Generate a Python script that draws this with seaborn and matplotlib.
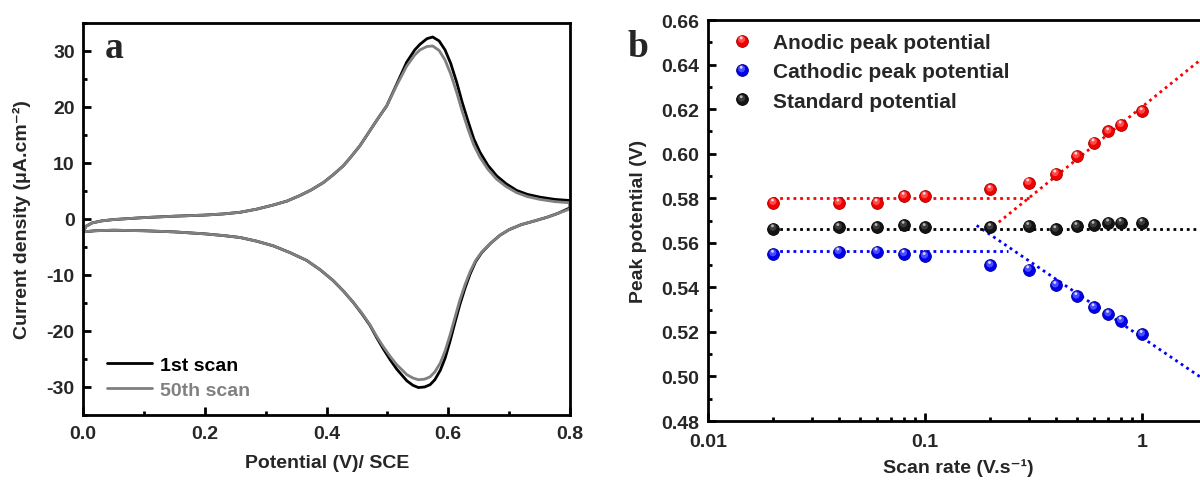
import numpy as np
import pandas as pd
import matplotlib
matplotlib.use("Agg")
import matplotlib.pyplot as plt
from matplotlib.path import Path
from matplotlib.markers import MarkerStyle
from matplotlib.legend_handler import HandlerTuple
from matplotlib.ticker import MultipleLocator, FixedLocator, NullFormatter, LogLocator
import seaborn as sns

# ---------------- (a) cyclic voltammograms, 1st and 50th scan ----------------
potential_fwd = [0.000, 0.005, 0.015, 0.030, 0.050, 0.100, 0.150, 0.200, 0.230,
                 0.2579, 0.285, 0.3127, 0.335, 0.3565, 0.375, 0.3948, 0.411, 0.4277,
                 0.441, 0.455, 0.466, 0.4769, 0.488, 0.4989, 0.515, 0.5317, 0.545,
                 0.5536, 0.565, 0.5744, 0.585, 0.5947, 0.604, 0.6139, 0.623, 0.633,
                 0.642, 0.6522, 0.665, 0.6796, 0.695, 0.7124, 0.730, 0.7507, 0.775, 0.800]
current_fwd_1st = [-2.3, -1.3, -0.7, -0.35, -0.1, 0.25, 0.5, 0.7, 0.9,
                   1.2, 1.75, 2.5, 3.2, 4.2, 5.2, 6.5, 7.9, 9.5,
                   11.2, 13.1, 14.9, 16.7, 18.5, 20.2, 24.0, 28.0, 30.2,
                   31.2, 32.2, 32.5, 31.8, 30.2, 27.8, 24.4, 20.8, 17.3,
                   14.3, 11.9, 9.6, 7.7, 6.3, 5.1, 4.4, 3.9, 3.5, 3.3]
current_fwd_50th = [-2.3, -1.3, -0.7, -0.35, -0.1, 0.25, 0.5, 0.7, 0.9,
                    1.2, 1.75, 2.5, 3.2, 4.2, 5.2, 6.5, 7.9, 9.5,
                    11.2, 13.1, 14.9, 16.7, 18.5, 20.2, 23.8, 27.3, 29.3,
                    30.2, 30.8, 30.9, 30.1, 28.4, 25.9, 22.6, 19.2, 15.9,
                    13.2, 11.0, 8.9, 7.1, 5.8, 4.7, 4.0, 3.5, 3.1, 2.9]

potential_rev = [0.800, 0.780, 0.762, 0.740, 0.720, 0.700, 0.685, 0.670, 0.655,
                 0.645, 0.636, 0.628, 0.619, 0.611, 0.603, 0.595, 0.587, 0.578,
                 0.570, 0.561, 0.551, 0.542, 0.532, 0.5153, 0.505, 0.4933, 0.482,
                 0.4715, 0.458, 0.444, 0.428, 0.411, 0.390, 0.3675, 0.340, 0.3127,
                 0.285, 0.2579, 0.230, 0.200, 0.150, 0.100, 0.050, 0.020, 0.000]
current_rev_1st = [2.0, 1.0, 0.3, -0.4, -1.0, -1.9, -2.9, -4.3, -6.0,
                   -7.6, -9.8, -12.2, -15.3, -18.5, -21.8, -24.8, -27.0, -28.7,
                   -29.6, -30.0, -30.1, -29.7, -28.9, -26.8, -25.2, -23.2, -21.1,
                   -19.0, -16.9, -14.9, -12.9, -11.0, -9.1, -7.4, -6.0, -4.8,
                   -3.95, -3.3, -2.95, -2.65, -2.3, -2.1, -2.0, -2.1, -2.3]
current_rev_50th = [1.8, 1.0, 0.3, -0.4, -1.0, -1.9, -2.9, -4.3, -5.9,
                    -7.4, -9.4, -11.6, -14.5, -17.6, -20.7, -23.5, -25.7, -27.3,
                    -28.2, -28.6, -28.7, -28.4, -27.8, -26.0, -24.6, -22.8, -20.9,
                    -18.9, -16.8, -14.9, -12.9, -11.0, -9.1, -7.4, -6.0, -4.8,
                    -3.95, -3.3, -2.95, -2.65, -2.3, -2.1, -2.0, -2.1, -2.3]

# ---------------- (b) peak potentials vs scan rate ----------------
scan_rate = [0.02, 0.04, 0.06, 0.08, 0.1, 0.2, 0.3, 0.4, 0.5, 0.6, 0.7, 0.8, 1.0]
anodic_peak = [0.578, 0.578, 0.578, 0.581, 0.581, 0.584, 0.587, 0.591, 0.599,
               0.605, 0.610, 0.613, 0.619]
cathodic_peak = [0.555, 0.556, 0.556, 0.555, 0.554, 0.550, 0.548, 0.541, 0.536,
                 0.531, 0.528, 0.525, 0.519]
standard_potential = [0.5664, 0.567, 0.567, 0.568, 0.567, 0.567, 0.5675, 0.566,
                      0.5675, 0.568, 0.569, 0.569, 0.569]

# Laviron fits: plateau levels at low scan rate, linear E vs log(v) at high scan rate
anodic_plateau, anodic_plateau_range = 0.580, (0.02, 0.31)
anodic_slope, anodic_intercept, anodic_fit_range = 0.0784, 0.621, (0.207, 10.0)
cathodic_plateau, cathodic_plateau_range = 0.5563, (0.02, 0.24)
cathodic_slope, cathodic_intercept, cathodic_fit_range = -0.066, 0.5175, (0.173, 10.0)
standard_level, standard_range = 0.5663, (0.02, 10.0)

series_labels = ["Anodic peak potential", "Cathodic peak potential", "Standard potential"]
cv_labels = ["1st scan", "50th scan"]

# ---------------- style ----------------
sns.set_style("ticks")
plt.rcParams["font.family"] = ["Liberation Sans", "DejaVu Sans"]
plt.rcParams["font.weight"] = "bold"
plt.rcParams["axes.labelweight"] = "bold"
plt.rcParams["axes.unicode_minus"] = False

fig = plt.figure(figsize=(12.0, 4.81), dpi=100)
ax_a = fig.add_axes([83 / 1200, 65 / 481, 487 / 1200, 392 / 481])
ax_b = fig.add_axes([708 / 1200, 59 / 481, 651 / 1200, 401 / 481])

for ax in (ax_a, ax_b):
    for sp in ax.spines.values():
        sp.set_visible(True)
        sp.set_linewidth(2.0)
        sp.set_color("black")
    ax.set_facecolor("white")

# ---------------- panel (a) ----------------
cv = pd.concat([
    pd.DataFrame({"E": potential_fwd + potential_rev,
                  "j": current_fwd_1st + current_rev_1st, "scan": cv_labels[0]}),
    pd.DataFrame({"E": potential_fwd + potential_rev,
                  "j": current_fwd_50th + current_rev_50th, "scan": cv_labels[1]}),
], ignore_index=True)

cv_colors = {cv_labels[0]: "#000000", cv_labels[1]: "#808080"}
for lab in cv_labels:
    sub = cv[cv["scan"] == lab]
    sns.lineplot(data=sub, x="E", y="j", ax=ax_a, sort=False, estimator=None,
                 color=cv_colors[lab], lw=2.0, label=lab,
                 solid_joinstyle="round", solid_capstyle="round")

ax_a.set_xlim(0.0, 0.8)
ax_a.set_ylim(-35, 35)
ax_a.xaxis.set_major_locator(MultipleLocator(0.2))
ax_a.xaxis.set_minor_locator(MultipleLocator(0.1))
ax_a.yaxis.set_major_locator(MultipleLocator(10))
ax_a.yaxis.set_minor_locator(MultipleLocator(5))
ax_a.xaxis.set_major_formatter(plt.FuncFormatter(lambda v, p: f"{v:.1f}"))
ax_a.tick_params(axis="both", which="both", direction="in", top=False, right=False,
                 labelsize=14, width=2.0, color="black")
ax_a.tick_params(axis="both", which="major", length=5.5)
ax_a.tick_params(axis="both", which="minor", length=3.0)
ax_a.tick_params(axis="x", which="major", pad=7.5)
ax_a.tick_params(axis="y", which="major", pad=6)
ax_a.set_xlabel("Potential (V)/ SCE", fontsize=14)
ax_a.set_ylabel("Current density (μA.cm⁻²)", fontsize=14)
ax_a.xaxis.set_label_coords(0.501, -0.099)
ax_a.yaxis.set_label_coords(-0.107, 0.5)

leg_a = ax_a.legend(loc="lower left", bbox_to_anchor=(0.049, 0.042), frameon=False,
                    fontsize=14, handlelength=2.32, handletextpad=0.41,
                    labelspacing=0.38, borderpad=0.0, borderaxespad=0.0,
                    labelcolor="linecolor")
for t in leg_a.get_texts():
    t.set_fontweight("bold")

# ---------------- panel (b) ----------------
def disc_marker(cx, cy, r):
    """Filled disc marker sitting off-centre inside the unit marker box."""
    anchor = Path([(0.5, 0.0)], [Path.MOVETO])
    return MarkerStyle(Path.make_compound_path(anchor, Path.circle((cx, cy), r)))

sphere_layers = [
    ("o", 0.6),
    (disc_marker(-0.04, 0.10, 0.30), 0.0),
    (disc_marker(-0.07, 0.22, 0.12), 0.0),
]
sphere_colors = {
    series_labels[0]: ["#f20000", "#ff4848", "#ffd8d8"],
    series_labels[1]: ["#0000f0", "#4a4aff", "#d8d8ff"],
    series_labels[2]: ["#141414", "#3c3c3c", "#b8b8b8"],
}
sphere_edges = {series_labels[0]: "#a00000", series_labels[1]: "#000090",
                series_labels[2]: "#000000"}

peaks = pd.DataFrame({
    "rate": scan_rate * 3,
    "E": anodic_peak + cathodic_peak + standard_potential,
    "series": [series_labels[0]] * len(scan_rate) + [series_labels[1]] * len(scan_rate)
              + [series_labels[2]] * len(scan_rate),
})

dot_style = dict(lw=2.0, linestyle=(0, (1.0, 1.4)), zorder=2)
fit_lines = [
    (anodic_plateau_range, lambda x: np.full_like(x, anodic_plateau), "#ff0000"),
    (anodic_fit_range, lambda x: anodic_intercept + anodic_slope * np.log10(x), "#ff0000"),
    (cathodic_plateau_range, lambda x: np.full_like(x, cathodic_plateau), "#0000ff"),
    (cathodic_fit_range, lambda x: cathodic_intercept + cathodic_slope * np.log10(x), "#0000ff"),
    (standard_range, lambda x: np.full_like(x, standard_level), "#000000"),
]
for rng, fn, col in fit_lines:
    xs = np.array(rng, dtype=float)
    sns.lineplot(x=xs, y=fn(xs), ax=ax_b, color=col, sort=False, estimator=None,
                 **dot_style)

handles = []
for lab in series_labels:
    sub = peaks[peaks["series"] == lab]
    layer_handles = []
    for i, (mk, lw) in enumerate(sphere_layers):
        sns.scatterplot(data=sub, x="rate", y="E", ax=ax_b, marker=mk, s=72,
                        color=sphere_colors[lab][i],
                        edgecolor=sphere_edges[lab] if lw > 0 else "none",
                        linewidth=lw, zorder=4 + i, legend=False)
        layer_handles.append(ax_b.collections[-1])
    handles.append(tuple(layer_handles))

ax_b.set_xscale("log")
ax_b.set_xlim(0.01, 10.0)
ax_b.set_ylim(0.48, 0.66)
ax_b.xaxis.set_major_locator(FixedLocator([0.01, 0.1, 1.0]))
ax_b.xaxis.set_major_formatter(plt.FuncFormatter(lambda v, p: f"{v:g}"))
ax_b.xaxis.set_minor_locator(LogLocator(base=10, subs=np.arange(2, 10)))
ax_b.xaxis.set_minor_formatter(NullFormatter())
ax_b.yaxis.set_major_locator(MultipleLocator(0.02))
ax_b.yaxis.set_minor_locator(MultipleLocator(0.01))
ax_b.yaxis.set_major_formatter(plt.FuncFormatter(lambda v, p: f"{v:.2f}"))
ax_b.tick_params(axis="both", which="both", direction="in", top=False, right=False,
                 labelsize=14, width=2.0, color="black")
ax_b.tick_params(axis="both", which="major", length=5.5)
ax_b.tick_params(axis="both", which="minor", length=3.0)
ax_b.tick_params(axis="x", which="major", pad=8.5)
ax_b.tick_params(axis="y", which="major", pad=6.5)
ax_b.set_xlabel("Scan rate (V.s⁻¹)", fontsize=14)
ax_b.set_ylabel("Peak potential (V)", fontsize=14)
ax_b.xaxis.set_label_coords(0.384, -0.092)
ax_b.yaxis.set_label_coords(-0.094, 0.5)

leg_b = ax_b.legend(handles=handles, labels=series_labels,
                    handler_map={tuple: HandlerTuple(ndivide=1, pad=0.0)},
                    loc="upper left", bbox_to_anchor=(0.0363, 0.968), frameon=False,
                    fontsize=15, handlelength=1.0, handletextpad=1.0,
                    labelspacing=0.5, borderpad=0.0, borderaxespad=0.0,
                    scatterpoints=1, scatteryoffsets=[0.5])
for t in leg_b.get_texts():
    t.set_fontweight("bold")

# panel letters
fig.text(114 / 1200, 1 - 58 / 481, "a", fontsize=27, fontweight="bold",
         family="Liberation Serif", ha="center", va="baseline")
fig.text(638 / 1200, 1 - 57 / 481, "b", fontsize=27, fontweight="bold",
         family="Liberation Serif", ha="center", va="baseline")

fig.savefig("out.png", dpi=100, facecolor="white")
